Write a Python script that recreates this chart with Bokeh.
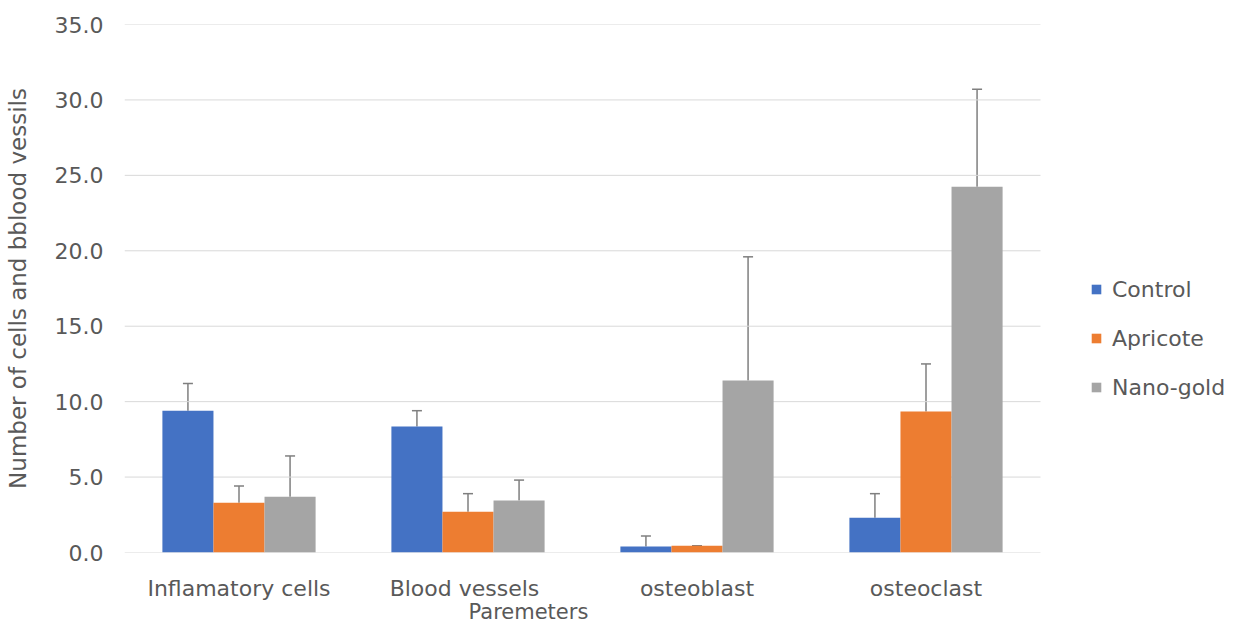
from bokeh.plotting import figure
from bokeh.models import (ColumnDataSource, Whisker, TeeHead, Legend, LegendItem,
                          FixedTicker, NumeralTickFormatter, Range1d, LinearAxis)
from bokeh.transform import dodge
from bokeh.embed import file_html
from bokeh.resources import INLINE

categories = ["Inflamatory cells", "Blood  vessels", "osteoblast", "osteoclast"]
series = ["Control", "Apricote", "Nano-gold"]
control = [9.4, 8.35, 0.4, 2.3]
control_sd = [1.8, 1.05, 0.7, 1.6]
apricote = [3.3, 2.7, 0.45, 9.35]
apricote_sd = [1.1, 1.2, 0.0, 3.15]
nano_gold = [3.7, 3.45, 11.4, 24.25]
nano_gold_sd = [2.7, 1.35, 8.2, 6.45]
y_ticks = [0, 5, 10, 15, 20, 25, 30, 35]
x_title = "Paremeters"
y_title = "Number of cells and bblood vessils"

colors = ["#4472C4", "#ED7D31", "#A5A5A5"]
FONT = "DejaVu Sans"
TXT = "#595959"

positions = [i + 1 for i in range(len(categories))]
X_END = 0.5 + 1106 / 229          # plot frame extends right to hold the legend
TITLE_AT = 2.264                  # x position of the "Paremeters" caption (left of centre)

p = figure(width=1231, height=626, output_backend="svg", toolbar_location=None,
           x_range=Range1d(0.5, X_END), y_range=Range1d(0, 35),
           min_border_left=124, min_border_right=1, min_border_top=24, min_border_bottom=74)
p.outline_line_color = None
p.xgrid.grid_line_color = None
p.ygrid.grid_line_color = None

# horizontal gridlines only across the category area
p.segment(x0=[0.5] * len(y_ticks), x1=[len(categories) + 0.5] * len(y_ticks),
          y0=y_ticks, y1=y_ticks, line_color="#d9d9d9", line_width=1)

p.xaxis.ticker = FixedTicker(ticks=positions)
p.xaxis.major_label_overrides = {pos: cat for pos, cat in zip(positions, categories)}
p.yaxis.ticker = FixedTicker(ticks=y_ticks)
p.yaxis.formatter = NumeralTickFormatter(format="0.0")
for ax in (p.xaxis[0], p.yaxis[0]):
    ax.axis_line_color = None
    ax.major_tick_line_color = None
    ax.minor_tick_line_color = None
    ax.major_label_text_font = FONT
    ax.major_label_text_font_size = "22px"
    ax.major_label_text_color = TXT
p.yaxis.major_label_standoff = 15
p.xaxis.major_label_standoff = 17
p.yaxis.axis_label = y_title
p.yaxis.axis_label_text_font = FONT
p.yaxis.axis_label_text_font_size = "23px"
p.yaxis.axis_label_text_font_style = "normal"
p.yaxis.axis_label_text_color = TXT
p.yaxis.axis_label_standoff = 21

# x-axis caption as the single label of a helper axis (offset range so tick 1 sits at TITLE_AT)
p.extra_x_ranges = {"title": Range1d(0.5 - (TITLE_AT - 1), X_END - (TITLE_AT - 1))}
tax = LinearAxis(x_range_name="title", ticker=FixedTicker(ticks=[1]),
                 major_label_overrides={1: x_title},
                 axis_line_color=None, major_tick_line_color=None, minor_tick_line_color=None,
                 major_label_standoff=-10, major_label_text_font=FONT,
                 major_label_text_font_size="21px", major_label_text_color=TXT)
p.add_layout(tax, "below")

width = 0.223
offsets = [-width, 0.0, width]
vals = [control, apricote, nano_gold]
sds = [control_sd, apricote_sd, nano_gold_sd]

items = []
for name, v, sd, off, col in zip(series, vals, sds, offsets, colors):
    src = ColumnDataSource(dict(pos=positions, val=v, upper=[a + b for a, b in zip(v, sd)]))
    r = p.vbar(x=dodge("pos", off), top="val", width=width, source=src,
               fill_color=col, line_color=None)
    w = Whisker(base=dodge("pos", off), upper="upper", lower="val", source=src,
                dimension="height", line_color="#7f7f7f", line_width=1.5,
                upper_head=TeeHead(size=10, line_color="#7f7f7f", line_width=1.5),
                lower_head=None)
    p.add_layout(w)
    items.append(LegendItem(label=name, renderers=[r]))

legend = Legend(items=items, location=(966, 152), orientation="vertical",
                glyph_width=12, glyph_height=12, label_standoff=10, label_height=26,
                spacing=23, padding=0, margin=0, border_line_color=None,
                background_fill_alpha=0,
                label_text_font=FONT, label_text_font_size="22px", label_text_color=TXT)
p.add_layout(legend)

open("out.html", "w").write(file_html(p, INLINE))
